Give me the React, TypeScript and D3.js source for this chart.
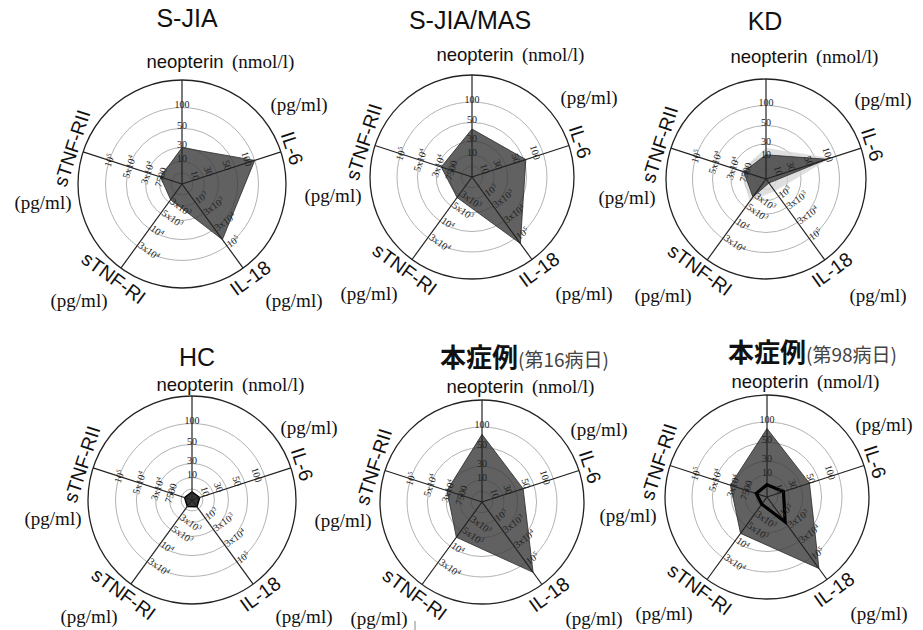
import React from 'react';
import * as d3 from 'd3';

// ---------- data ----------
const axisNames = ['neopterin', 'IL-6', 'IL-18', 'sTNF-RI', 'sTNF-RII'];

const neopterinTicks = [10, 30, 50, 100];
const il6Ticks = [10, 30, 50, 100];
const il18Ticks = [1000, 3000, 30000, 100000];
const stnfr1Ticks = [3000, 5000, 10000, 30000];
const stnfr2Ticks = [7500, 30000, 50000, 100000];

const neopterinTickLabels = ['10', '30', '50', '100'];
const il6TickLabels = ['10', '30', '50', '100'];
const il18TickLabels = ['10^3', '3x10^3', '3x10^4', '10^5'];
const stnfr1TickLabels = ['3x10^3', '5x10^3', '10^4', '3x10^4'];
const stnfr2TickLabels = ['7500', '3x10^4', '5x10^4', '10^5'];

// values: neopterin (nmol/l), IL-6, IL-18, sTNF-RI, sTNF-RII (pg/ml)
const sJia = [30, 100, 74000, 2600, 8000];
const sJiaMas = [43, 55, 125000, 3500, 24500];
const kdUpper = [24, 86, 700, 3900, 16700];
const kd = [14, 76, 230, 3100, 10800];
const hc = [3.7, 3.6, 380, 1070, 2600];
const caseDay16 = [82, 38, 141000, 7100, 31200];
const caseDay98Ref = [84, 39.5, 146000, 7460, 32900];
const caseDay98 = [5.6, 7.9, 2300, 1210, 3840];

const axisTicks = [neopterinTicks, il6Ticks, il18Ticks, stnfr1Ticks, stnfr2Ticks];
const axisTickLabels = [neopterinTickLabels, il6TickLabels, il18TickLabels, stnfr1TickLabels, stnfr2TickLabels];

// ---------- layout / style ----------
const W = 923;
const H = 630;
const SANS = '"Liberation Sans", Arial, sans-serif';
const SERIF = '"Liberation Serif", "Times New Roman", serif';
const CJK = '"Noto Sans CJK JP", "Noto Sans CJK SC", sans-serif';

const ringFracs = [0.105, 0.215, 0.35, 0.535, 0.735];
const tickAlong = [3, -7, 0, -3, 0];
const tickPerp = [0, 4, 1, 1, 0];
const tickAnchor = ['middle', 'middle', 'start', 'start', 'middle'];

type Series = { values: number[]; kind: 'fill' | 'light' | 'dark' | 'outline' };
type Panel = {
  key: string; title: string; sub?: string; cx: number; cy: number; R: number;
  tx: number; ty: number; shift: number; series: Series[];
};

const panels: Panel[] = [
  { key: 'sjia', title: 'S-JIA', cx: 182, cy: 184, R: 104, tx: 187, ty: 27, shift: 0,
    series: [{ values: sJia, kind: 'fill' }] },
  { key: 'mas', title: 'S-JIA/MAS', cx: 472, cy: 177, R: 102, tx: 470, ty: 29, shift: 0,
    series: [{ values: sJiaMas, kind: 'fill' }] },
  { key: 'kd', title: 'KD', cx: 766, cy: 179, R: 100, tx: 765, ty: 30, shift: 0,
    series: [{ values: kdUpper, kind: 'light' }, { values: kd, kind: 'fill' }] },
  { key: 'hc', title: 'HC', cx: 192, cy: 500, R: 104, tx: 197, ty: 366, shift: 7,
    series: [{ values: hc, kind: 'dark' }] },
  { key: 'd16', title: '本症例', sub: '(第16病日)', cx: 482, cy: 502, R: 102, tx: 440, ty: 367, shift: 7,
    series: [{ values: caseDay16, kind: 'fill' }] },
  { key: 'd98', title: '本症例', sub: '(第98病日)', cx: 767, cy: 497, R: 102, tx: 728, ty: 362, shift: 7,
    series: [{ values: caseDay98Ref, kind: 'fill' }, { values: caseDay98, kind: 'outline' }] },
];

function renderLabel(s: string) {
  const parts = s.split('^');
  if (parts.length === 1) return s;
  return (
    <>
      {parts[0]}
      <tspan dy={-3} fontSize={6.5}>{parts[1]}</tspan>
    </>
  );
}

function Radar({ p }: { p: Panel }) {
  const { cx, cy, R } = p;
  const n = axisNames.length;
  const ang = (i: number) => (i * 2 * Math.PI) / n;
  const dir = (i: number) => [Math.sin(ang(i)), -Math.cos(ang(i))];
  const perp = (i: number) => [-Math.cos(ang(i)), -Math.sin(ang(i))];
  const rotOf = (i: number) => {
    const a = (i * 360) / n;
    return a <= 90 ? a : a < 270 ? a - 180 : a - 360;
  };
  const scales = axisTicks.map((t) =>
    d3.scaleLinear().domain([0, ...t]).range([0, ...ringFracs.slice(1).map((f) => f * R)])
  );
  const line = d3
    .lineRadial<number>()
    .angle((_, i) => ang(i))
    .radius((v, i) => scales[i](v))
    .curve(d3.curveLinearClosed);

  const styleOf = (k: Series['kind']) => {
    switch (k) {
      case 'light': return { fill: '#d4d4d4', fillOpacity: 0.75, stroke: 'none', strokeWidth: 0 };
      case 'dark': return { fill: '#2a2a2a', fillOpacity: 0.95, stroke: '#000', strokeWidth: 1.5 };
      case 'outline': return { fill: 'none', fillOpacity: 1, stroke: '#000', strokeWidth: 3.2 };
      default: return { fill: '#3a3a3a', fillOpacity: 0.8, stroke: '#2a2a2a', strokeWidth: 0.8 };
    }
  };

  const labelR = R + 12;
  const top = p.shift;

  return (
    <g>
      {/* title */}
      {p.sub ? (
        <text x={p.tx} y={p.ty} fontFamily={CJK} fill="#111">
          <tspan fontSize={26} fontWeight="bold">{p.title}</tspan>
          <tspan fontSize={19} fill="#444">{p.sub}</tspan>
        </text>
      ) : (
        <text x={p.tx} y={p.ty} fontFamily={SANS} fontSize={25} textAnchor="middle" fill="#111">{p.title}</text>
      )}

      <g transform={`translate(${cx},${cy})`}>
        {/* rings */}
        {ringFracs.map((f, k) => (
          <circle key={k} r={f * R} fill="none" stroke="#b3b3b3" strokeWidth={1} />
        ))}
        <circle r={R} fill="none" stroke="#222" strokeWidth={1.3} />

        {/* filled series */}
        {p.series.map((s, si) => {
          if (s.kind === 'outline') return null;
          const st = styleOf(s.kind);
          return (
            <path key={si} d={line(s.values) || ''} fill={st.fill} fillOpacity={st.fillOpacity}
              stroke={st.stroke} strokeWidth={st.strokeWidth} strokeLinejoin="round" />
          );
        })}

        {/* spokes */}
        {axisNames.map((_, i) => {
          const [dx, dy] = dir(i);
          return <line key={i} x1={0} y1={0} x2={dx * R} y2={dy * R} stroke="#222" strokeWidth={1.2} />;
        })}

        {/* outline series on top */}
        {p.series.map((s, si) => {
          if (s.kind !== 'outline') return null;
          const st = styleOf(s.kind);
          return (
            <path key={si} d={line(s.values) || ''} fill="none" stroke={st.stroke}
              strokeWidth={st.strokeWidth} strokeLinejoin="miter" />
          );
        })}

        {/* tick labels */}
        {axisNames.map((_, i) => {
          const [dx, dy] = dir(i);
          const [px, py] = perp(i);
          return axisTickLabels[i].map((lab, k) => {
            const r = scales[i](axisTicks[i][k]) + tickAlong[i];
            const x = dx * r + px * tickPerp[i];
            const y = dy * r + py * tickPerp[i];
            return (
              <text key={`${i}-${k}`} transform={`translate(${x},${y}) rotate(${rotOf(i)})`}
                textAnchor={tickAnchor[i]} dominantBaseline="central" fontFamily={SERIF}
                fontSize={10} fill="#222">
                {renderLabel(lab)}
              </text>
            );
          });
        })}

        {/* axis names (except neopterin) */}
        {axisNames.map((name, i) => {
          if (i === 0) return null;
          const [dx, dy] = dir(i);
          return (
            <text key={name} transform={`translate(${dx * labelR},${dy * labelR}) rotate(${rotOf(i)})`}
              textAnchor="middle" dominantBaseline="central" fontFamily={SANS} fontSize={19.5} fill="#111">
              {name}
            </text>
          );
        })}

        {/* neopterin + units */}
        <text x={3} y={-123 + top} textAnchor="middle" dominantBaseline="central"
          fontFamily={SANS} fontSize={18.5} fill="#111">{axisNames[0]}</text>
        <text x={50} y={-123 + top} textAnchor="start" dominantBaseline="central"
          fontFamily={SERIF} fontSize={19} fill="#111">(nmol/l)</text>
        <text x={117} y={-82 + top + 2} textAnchor="middle" dominantBaseline="central"
          fontFamily={SERIF} fontSize={19} fill="#111">(pg/ml)</text>
        <text x={-139} y={18} textAnchor="middle" dominantBaseline="central"
          fontFamily={SERIF} fontSize={19} fill="#111">(pg/ml)</text>
        <text x={-103} y={116} textAnchor="middle" dominantBaseline="central"
          fontFamily={SERIF} fontSize={19} fill="#111">(pg/ml)</text>
        <text x={112} y={116} textAnchor="middle" dominantBaseline="central"
          fontFamily={SERIF} fontSize={19} fill="#111">(pg/ml)</text>
      </g>
    </g>
  );
}

export default function App() {
  return (
    <svg width={W} height={H} viewBox={`0 0 ${W} ${H}`}
      style={{ position: 'absolute', left: 0, top: 0, background: '#fff' }}>
      <rect width={W} height={H} fill="#fff" />
      {panels.map((p) => <Radar key={p.key} p={p} />)}
      <line x1={415} y1={621} x2={415} y2={630} stroke="#888" strokeWidth={1} />
    </svg>
  );
}
